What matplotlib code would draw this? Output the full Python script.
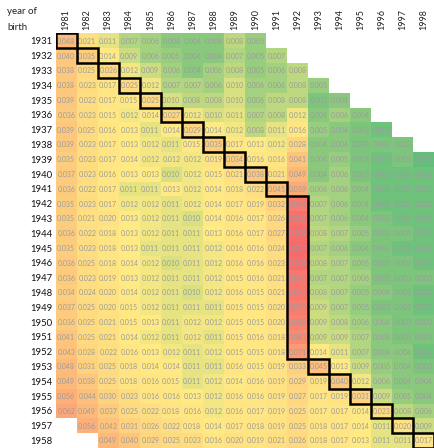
import numpy as np
import matplotlib
matplotlib.use("Agg")
import matplotlib.pyplot as plt
from matplotlib.colors import LinearSegmentedColormap, TwoSlopeNorm
from matplotlib.patches import Rectangle

plt.rcParams['font.family'] = ['Lato', 'DejaVu Sans']

years = list(range(1981, 1999))
birth_years = list(range(1931, 1959))

# one list per birth year, starting at 1981 (None = no data)
rates = [
    [0.048, 0.021, 0.011, 0.007, 0.006, 0.004, 0.004, 0.004, 0.008, 0.005],
    [0.040, 0.035, 0.014, 0.009, 0.006, 0.005, 0.004, 0.004, 0.007, 0.005, 0.007],
    [0.038, 0.025, 0.026, 0.012, 0.009, 0.006, 0.004, 0.006, 0.008, 0.005, 0.006, 0.008],
    [0.038, 0.023, 0.017, 0.025, 0.012, 0.007, 0.007, 0.006, 0.010, 0.006, 0.006, 0.008, 0.005],
    [0.039, 0.022, 0.017, 0.015, 0.025, 0.010, 0.008, 0.008, 0.010, 0.006, 0.008, 0.008, 0.003, 0.004],
    [0.036, 0.023, 0.015, 0.012, 0.014, 0.027, 0.012, 0.010, 0.011, 0.007, 0.008, 0.012, 0.004, 0.006, 0.004],
    [0.039, 0.025, 0.016, 0.013, 0.011, 0.014, 0.029, 0.014, 0.012, 0.008, 0.011, 0.016, 0.005, 0.004, 0.003, 0.002],
    [0.039, 0.023, 0.017, 0.013, 0.012, 0.011, 0.015, 0.035, 0.017, 0.013, 0.012, 0.028, 0.004, 0.004, 0.003, 0.003, 0.003],
    [0.035, 0.023, 0.017, 0.014, 0.012, 0.012, 0.012, 0.019, 0.034, 0.016, 0.016, 0.041, 0.004, 0.005, 0.003, 0.002, 0.003, 0.001],
    [0.037, 0.023, 0.016, 0.013, 0.013, 0.010, 0.012, 0.015, 0.021, 0.038, 0.021, 0.049, 0.004, 0.006, 0.003, 0.002, 0.002, 0.002],
    [0.036, 0.022, 0.017, 0.011, 0.011, 0.013, 0.012, 0.014, 0.018, 0.022, 0.045, 0.059, 0.006, 0.006, 0.004, 0.002, 0.002, 0.002],
    [0.035, 0.023, 0.017, 0.012, 0.012, 0.011, 0.012, 0.014, 0.017, 0.019, 0.032, 0.094, 0.007, 0.006, 0.004, 0.002, 0.002, 0.002],
    [0.035, 0.021, 0.020, 0.013, 0.012, 0.011, 0.010, 0.014, 0.016, 0.017, 0.026, 0.102, 0.007, 0.006, 0.004, 0.003, 0.002, 0.002],
    [0.036, 0.022, 0.018, 0.013, 0.012, 0.011, 0.011, 0.013, 0.016, 0.017, 0.027, 0.104, 0.008, 0.007, 0.005, 0.003, 0.003, 0.002],
    [0.035, 0.023, 0.018, 0.013, 0.011, 0.011, 0.011, 0.012, 0.016, 0.016, 0.024, 0.107, 0.007, 0.006, 0.004, 0.003, 0.002, 0.002],
    [0.036, 0.025, 0.018, 0.014, 0.012, 0.010, 0.011, 0.012, 0.016, 0.016, 0.023, 0.104, 0.008, 0.007, 0.005, 0.003, 0.003, 0.002],
    [0.036, 0.023, 0.019, 0.013, 0.012, 0.011, 0.011, 0.012, 0.015, 0.016, 0.021, 0.096, 0.007, 0.007, 0.006, 0.003, 0.003, 0.003],
    [0.034, 0.024, 0.020, 0.014, 0.012, 0.011, 0.010, 0.012, 0.016, 0.015, 0.021, 0.097, 0.008, 0.007, 0.005, 0.004, 0.003, 0.002],
    [0.037, 0.025, 0.020, 0.015, 0.012, 0.011, 0.011, 0.011, 0.015, 0.015, 0.020, 0.092, 0.009, 0.007, 0.005, 0.003, 0.003, 0.002],
    [0.036, 0.025, 0.021, 0.015, 0.013, 0.011, 0.012, 0.012, 0.015, 0.015, 0.020, 0.088, 0.009, 0.008, 0.006, 0.004, 0.003, 0.003],
    [0.041, 0.025, 0.021, 0.014, 0.012, 0.011, 0.012, 0.011, 0.015, 0.016, 0.018, 0.083, 0.009, 0.009, 0.007, 0.004, 0.003, 0.003],
    [0.043, 0.028, 0.022, 0.016, 0.013, 0.012, 0.011, 0.012, 0.015, 0.015, 0.018, 0.071, 0.014, 0.011, 0.007, 0.004, 0.004, 0.002],
    [0.048, 0.031, 0.025, 0.018, 0.014, 0.014, 0.011, 0.011, 0.016, 0.015, 0.019, 0.033, 0.045, 0.013, 0.009, 0.005, 0.004, 0.003],
    [0.049, 0.038, 0.025, 0.018, 0.016, 0.015, 0.011, 0.012, 0.014, 0.016, 0.019, 0.029, 0.019, 0.040, 0.012, 0.006, 0.004, 0.004],
    [0.056, 0.044, 0.030, 0.023, 0.016, 0.016, 0.013, 0.012, 0.016, 0.016, 0.019, 0.027, 0.017, 0.019, 0.031, 0.009, 0.005, 0.004],
    [0.062, 0.049, 0.037, 0.025, 0.022, 0.018, 0.016, 0.012, 0.016, 0.017, 0.019, 0.025, 0.017, 0.017, 0.014, 0.023, 0.008, 0.006],
    [None, 0.056, 0.042, 0.031, 0.026, 0.022, 0.018, 0.014, 0.017, 0.018, 0.019, 0.025, 0.018, 0.017, 0.014, 0.011, 0.020, 0.009],
    [None, None, 0.049, 0.040, 0.029, 0.025, 0.023, 0.016, 0.020, 0.019, 0.021, 0.026, 0.018, 0.017, 0.013, 0.011, 0.011, 0.017],
]

# outlined year for each birth year (same year in a run -> one tall box)
outlined_year = [1981, 1982, 1983, 1984, 1985, 1986, 1987, 1988, 1989, 1990, 1991,
                 1992, 1992, 1992, 1992, 1992, 1992, 1992, 1992, 1992, 1992, 1992,
                 1993, 1994, 1995, 1996, 1997, 1998]

grid = np.full((len(birth_years), len(years)), np.nan)
for i, row in enumerate(rates):
    for j, v in enumerate(row):
        if v is not None:
            grid[i, j] = v

vals = grid[~np.isnan(grid)]
cmap = LinearSegmentedColormap.from_list('gyr', ['#63BE7B', '#FFEB84', '#F8696B'])
cmap.set_bad('white')
norm = TwoSlopeNorm(vmin=vals.min(), vcenter=np.percentile(vals, 50), vmax=vals.max())

fig = plt.figure(figsize=(4.34, 4.48), dpi=100)
ax = fig.add_axes([55.7 / 434, 0.0, 378.3 / 434, 414.5 / 448])
ax.pcolormesh(np.arange(len(years) + 1), np.arange(len(birth_years) + 1),
              np.ma.masked_invalid(grid), cmap=cmap, norm=norm)
ax.set_xlim(0, len(years))
ax.set_ylim(len(birth_years), 0)

for i in range(len(birth_years)):
    for j in range(len(years)):
        v = grid[i, j]
        if not np.isnan(v):
            ax.text(j + 0.5, i + 0.52, f"{v:.3f}", ha='center', va='center',
                    fontsize=5, color='#9c9c9c')

# black outlines, merging runs in the same column
i = 0
while i < len(birth_years):
    k = i
    while k + 1 < len(birth_years) and outlined_year[k + 1] == outlined_year[i]:
        k += 1
    ax.add_patch(Rectangle((years.index(outlined_year[i]), i), 1, k - i + 1,
                           fill=False, edgecolor='black', lw=1.8, zorder=5))
    i = k + 1

ax.xaxis.tick_top()
ax.set_xticks(np.arange(len(years)) + 0.5)
ax.set_xticklabels([str(y) for y in years], rotation=90, fontsize=6.5, color='#222222')
ax.set_yticks(np.arange(len(birth_years)) + 0.5)
ax.set_yticklabels([str(b) for b in birth_years], fontsize=6.8, color='#111111')
ax.tick_params(length=0, pad=2.5)
for s in ax.spines.values():
    s.set_visible(False)

fig.text(7 / 434, 1 - 12 / 448, 'year of', fontsize=7, va='center', color='#222222')
fig.text(7 / 434, 1 - 27 / 448, 'birth', fontsize=7, va='center', color='#222222')

fig.savefig('out.png', dpi=100)
